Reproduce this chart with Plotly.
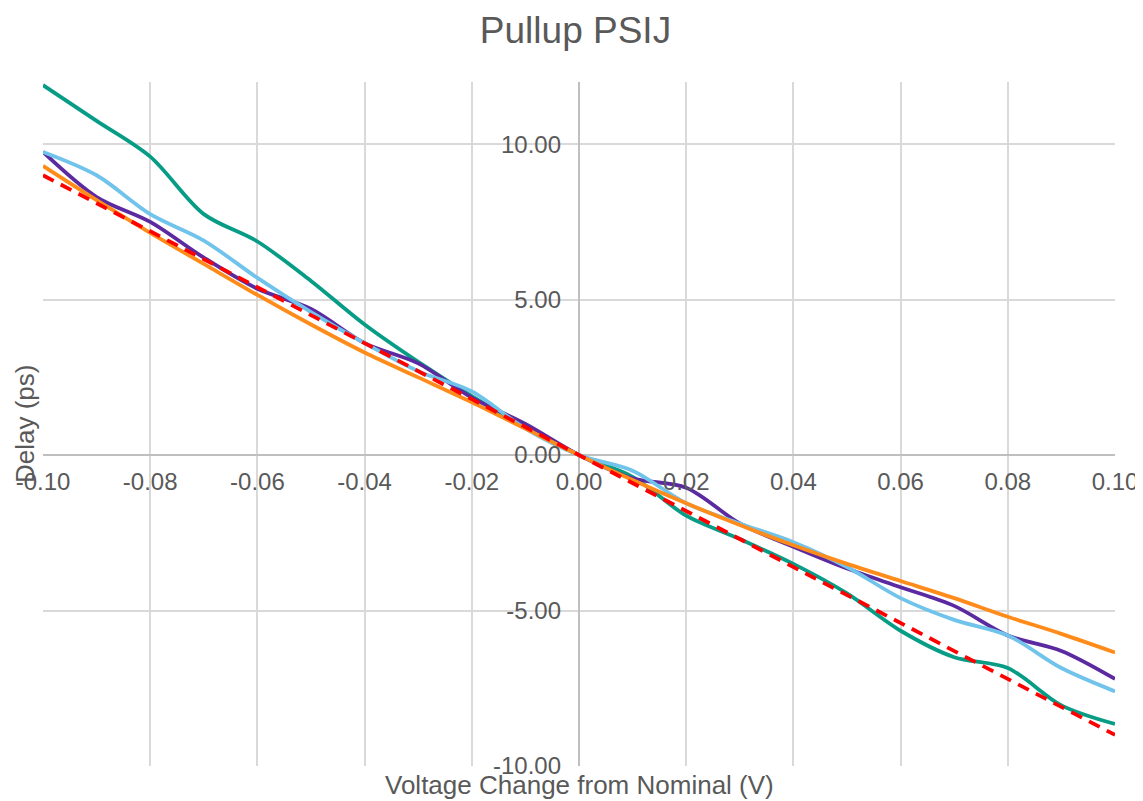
import plotly.graph_objects as go

# Voltage steps (V)
voltage = [-0.10, -0.09, -0.08, -0.07, -0.06, -0.05, -0.04, -0.03, -0.02, -0.01,
           0.00, 0.01, 0.02, 0.03, 0.04, 0.05, 0.06, 0.07, 0.08, 0.09, 0.10]

# Delay (ps) per series
teal = [11.9, 10.75, 9.6, 7.75, 6.87, 5.6, 4.2, 3.0, 1.9, 0.9,
        0.0, -0.7, -1.95, -2.7, -3.5, -4.45, -5.65, -6.5, -6.85, -8.05, -8.65]
purple = [9.75, 8.3, 7.5, 6.35, 5.35, 4.7, 3.6, 2.95, 1.85, 1.0,
          0.0, -0.75, -1.05, -2.2, -2.95, -3.65, -4.25, -4.85, -5.8, -6.3, -7.2]
skyblue = [9.75, 9.0, 7.75, 6.9, 5.7, 4.6, 3.6, 2.7, 2.05, 0.85,
           0.0, -0.5, -1.55, -2.2, -2.8, -3.6, -4.6, -5.3, -5.8, -6.85, -7.6]
orange = [9.3, 8.2, 7.15, 6.15, 5.15, 4.2, 3.3, 2.5, 1.7, 0.85,
          0.0, -0.8, -1.55, -2.25, -2.9, -3.5, -4.05, -4.6, -5.2, -5.75, -6.35]

# linear trend (red dashed)
trend_x = [-0.10, 0.10]
trend_y = [9.0, -9.0]

x_ticks = [-0.10, -0.08, -0.06, -0.04, -0.02, 0.00, 0.02, 0.04, 0.06, 0.08, 0.10]
y_ticks = [-10, -5, 0, 5, 10]

font_family = "Liberation Sans, Arial, sans-serif"
text_color = "#595959"

fig = go.Figure()
for vals, color in [(teal, "#079c86"), (purple, "#5b2aa0"),
                    (skyblue, "#70c3ea"), (orange, "#ff8c1a")]:
    fig.add_trace(go.Scatter(x=voltage, y=vals, mode="lines",
                             line=dict(color=color, width=3.8, shape="spline", smoothing=0.9),
                             showlegend=False))
fig.add_trace(go.Scatter(x=trend_x, y=trend_y, mode="lines",
                         line=dict(color="#ff0000", width=3.8, dash="12px,8px"),
                         showlegend=False))

# page body adds an 8px offset, so the figure is 8px smaller than the window
fig.update_layout(
    width=1135, height=793,
    margin=dict(l=35, r=28, t=74, b=35),
    plot_bgcolor="white", paper_bgcolor="white",
    font=dict(family=font_family, color=text_color),
    title=dict(text="Pullup PSIJ", x=0.5, xanchor="center",
               yref="container", y=1 - 22 / 793, yanchor="middle",
               font=dict(size=37, color=text_color)),
    xaxis=dict(range=[-0.10, 0.10], tickvals=x_ticks,
               ticktext=[f"{v:.2f}" for v in x_ticks],
               showgrid=True, gridcolor="#d9d9d9", gridwidth=2,
               zeroline=True, zerolinecolor="#bfbfbf", zerolinewidth=2,
               showline=False, anchor="free", position=10 / 22,
               automargin=False, ticks="", ticklabelstandoff=10,
               tickfont=dict(size=24, color=text_color)),
    yaxis=dict(range=[-10, 12], tickvals=y_ticks,
               ticktext=[f"{v:.2f}" for v in y_ticks],
               showgrid=True, gridcolor="#d9d9d9", gridwidth=2,
               zeroline=True, zerolinecolor="#bfbfbf", zerolinewidth=2,
               showline=False, anchor="free", position=0.5,
               automargin=False, ticks="", ticklabelstandoff=18,
               tickfont=dict(size=24, color=text_color)),
    annotations=[
        dict(text="Voltage Change from Nominal (V)", xref="paper", yref="paper",
             x=0.5, y=0, xanchor="center", yanchor="middle", yshift=-19,
             showarrow=False, font=dict(size=26, color=text_color)),
        dict(text="Delay (ps)", xref="paper", yref="paper",
             x=0, y=0.5, xanchor="center", yanchor="middle", xshift=-18,
             textangle=-90, showarrow=False, font=dict(size=26, color=text_color)),
    ],
)

fig.write_html("out.html")
